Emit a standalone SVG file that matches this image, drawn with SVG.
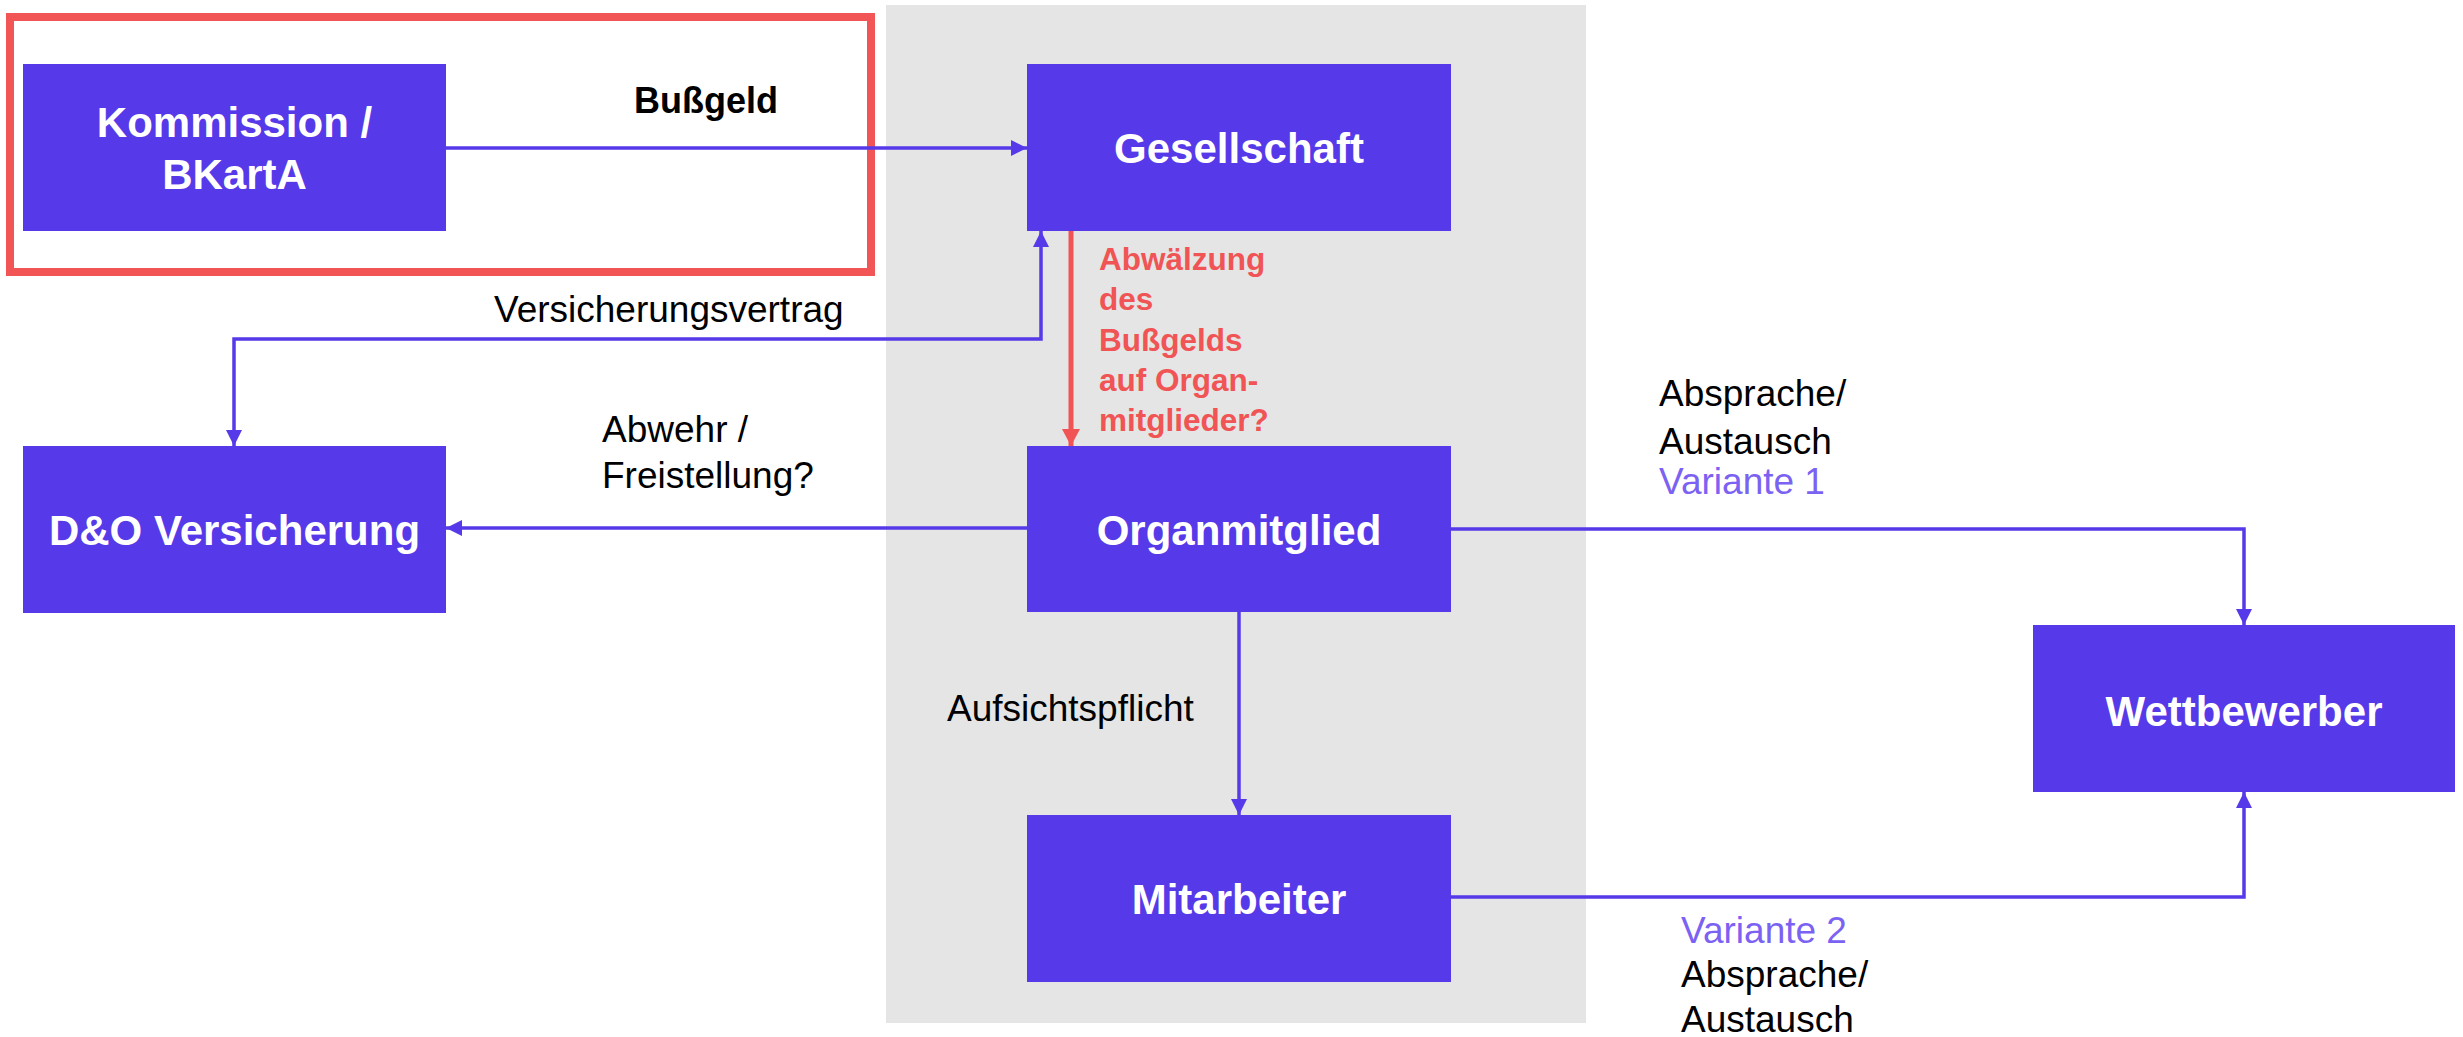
<svg xmlns="http://www.w3.org/2000/svg" width="2463" height="1037" viewBox="0 0 2463 1037">
<style>
.node{fill:#5639E8}
.nt{font-family:"Liberation Sans",Arial,sans-serif;font-weight:bold;font-size:42px;fill:#FFFFFF;text-anchor:middle}
.lbl{font-family:"Liberation Sans",Arial,sans-serif;font-size:37px;fill:#000000}
.red{font-family:"Liberation Sans",Arial,sans-serif;font-weight:bold;font-size:31.5px;fill:#F05454}
.var{font-family:"Liberation Sans",Arial,sans-serif;font-size:37px;fill:#7B62F2}
.con{fill:none;stroke:#5639E8;stroke-width:3.5}
</style>
<defs>
<marker id="ab" markerUnits="userSpaceOnUse" markerWidth="16" markerHeight="16" refX="16" refY="8" orient="auto-start-reverse" viewBox="0 0 16 16">
<path d="M0,0 L16,8 L0,16 Z" fill="#5639E8"/>
</marker>
<marker id="ar" markerUnits="userSpaceOnUse" markerWidth="17" markerHeight="18" refX="17" refY="9" orient="auto" viewBox="0 0 17 18">
<path d="M0,0 L17,9 L0,18 Z" fill="#F05454"/>
</marker>
</defs>
<rect x="0" y="0" width="2463" height="1037" fill="#FFFFFF"/>
<rect id="panel" x="886" y="5" width="700" height="1018" fill="#E5E5E5"/>
<rect id="highlight" x="10" y="17" width="861" height="255" fill="none" stroke="#F25555" stroke-width="8"/>

<g id="connectors">
<path class="con" d="M446 148 H1027" marker-end="url(#ab)"/>
<path class="con" d="M1041 231 V339 H234 V446" marker-start="url(#ab)" marker-end="url(#ab)"/>
<path class="con" d="M1027 528 H446" marker-end="url(#ab)"/>
<path class="con" d="M1239 612 V815" marker-end="url(#ab)"/>
<path class="con" d="M1451 529 H2244 V625" marker-end="url(#ab)"/>
<path class="con" d="M1451 897 H2244 V792" marker-end="url(#ab)"/>
<path d="M1071 231 V446" fill="none" stroke="#F05454" stroke-width="5" marker-end="url(#ar)"/>
</g>

<g id="labels">
<text class="lbl" x="634" y="113" style="font-weight:bold;font-size:36px">Bußgeld</text>
<text class="lbl" x="494" y="322">Versicherungsvertrag</text>
<text class="lbl" x="602" y="442">Abwehr /</text>
<text class="lbl" x="602" y="488">Freistellung?</text>
<text class="red" x="1099" y="270">Abwälzung</text>
<text class="red" x="1099" y="310">des</text>
<text class="red" x="1099" y="351">Bußgelds</text>
<text class="red" x="1099" y="391">auf Organ-</text>
<text class="red" x="1099" y="431">mitglieder?</text>
<text class="lbl" x="947" y="721">Aufsichtspflicht</text>
<text class="lbl" x="1659" y="406">Absprache/</text>
<text class="lbl" x="1659" y="454">Austausch</text>
<text class="var" x="1659" y="494">Variante 1</text>
<text class="var" x="1681" y="943">Variante 2</text>
<text class="lbl" x="1681" y="987">Absprache/</text>
<text class="lbl" x="1681" y="1032">Austausch</text>
</g>

<g id="kommission">
<rect class="node" x="23" y="64" width="423" height="167"/>
<text class="nt" x="234.5" y="137">Kommission /</text>
<text class="nt" x="234.5" y="189">BKartA</text>
</g>
<g id="gesellschaft">
<rect class="node" x="1027" y="64" width="424" height="167"/>
<text class="nt" x="1239" y="163">Gesellschaft</text>
</g>
<g id="do-versicherung">
<rect class="node" x="23" y="446" width="423" height="167"/>
<text class="nt" x="234.5" y="545">D&amp;O Versicherung</text>
</g>
<g id="organmitglied">
<rect class="node" x="1027" y="446" width="424" height="166"/>
<text class="nt" x="1239" y="545">Organmitglied</text>
</g>
<g id="mitarbeiter">
<rect class="node" x="1027" y="815" width="424" height="167"/>
<text class="nt" x="1239" y="914">Mitarbeiter</text>
</g>
<g id="wettbewerber">
<rect class="node" x="2033" y="625" width="422" height="167"/>
<text class="nt" x="2244" y="726">Wettbewerber</text>
</g>
</svg>
